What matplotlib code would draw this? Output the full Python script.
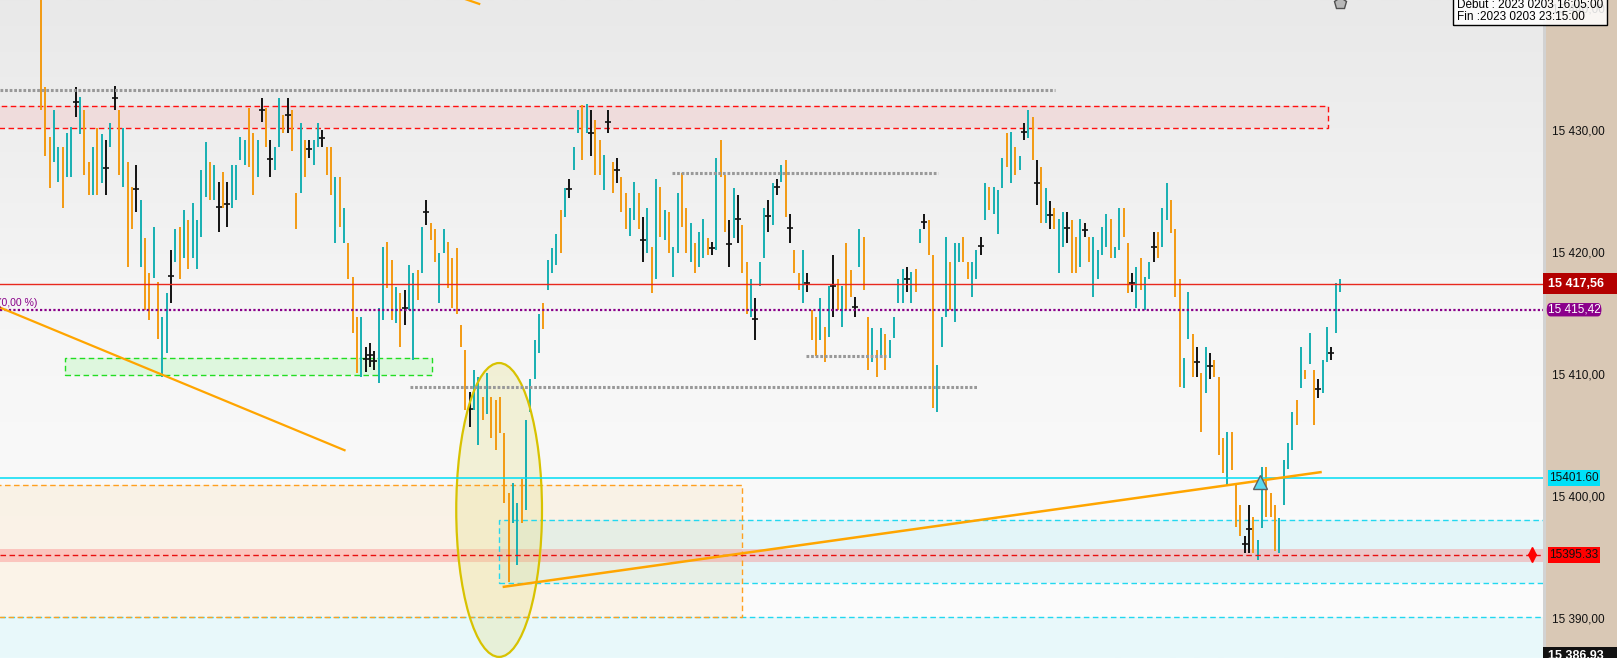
import numpy as np
import matplotlib
matplotlib.use("Agg")
from matplotlib import pyplot as plt
from matplotlib.patches import Rectangle, Ellipse, FancyBboxPatch
from matplotlib.colors import LinearSegmentedColormap

plt.rcParams['font.family'] = ['Liberation Sans', 'DejaVu Sans']

# bar highs / lows
highs = [
    15442.0, 15433.7, 15429.6, 15431.8, 15428.8, 15428.8, 15429.9, 15430.4, 15433.7, 15432.9,
    15431.8, 15427.5, 15428.8, 15430.3, 15429.8, 15429.3, 15430.7, 15433.8, 15431.8, 15430.3,
    15427.5, 15425.5, 15427.3, 15424.4, 15421.3, 15418.4, 15422.2, 15417.7, 15414.8, 15416.8,
    15420.3, 15422.0, 15422.2, 15423.6, 15422.8, 15424.2, 15422.8, 15426.9, 15429.2, 15427.5,
    15427.3, 15425.9, 15426.7, 15425.9, 15427.3, 15427.3, 15429.6, 15429.3, 15432.0, 15429.9,
    15429.3, 15432.8, 15432.0, 15429.3, 15428.8, 15432.8, 15431.4, 15432.8, 15431.8, 15425.0,
    15430.7, 15429.3, 15429.3, 15429.3, 15430.7, 15430.2, 15428.8, 15428.8, 15426.3, 15426.3,
    15423.8, 15420.9, 15418.1, 15414.8, 15414.8, 15412.4, 15412.7, 15412.0, 15415.6, 15420.6,
    15421.0, 15419.5, 15417.3, 15416.8, 15417.0, 15419.1, 15418.4, 15418.7, 15422.2, 15424.4,
    15422.5, 15422.0, 15420.1, 15422.0, 15421.0, 15419.7, 15420.5, 15414.2, 15412.1, 15408.7,
    15410.5, 15409.9, 15408.3, 15410.2, 15408.3, 15408.0, 15408.3, 15405.3, 15400.4, 15401.2,
    15399.6, 15401.5, 15406.4, 15409.7, 15412.9, 15415.1, 15416.0, 15419.5, 15420.5, 15421.6,
    15423.6, 15425.4, 15426.1, 15428.8, 15431.8, 15432.2, 15432.3, 15431.8, 15431.0, 15429.3,
    15428.1, 15431.8, 15427.5, 15427.9, 15426.3, 15425.0, 15423.8, 15425.9, 15425.0, 15423.0,
    15423.8, 15420.6, 15426.1, 15425.5, 15423.6, 15423.4, 15420.6, 15425.0, 15426.6, 15423.8,
    15422.5, 15420.9, 15421.8, 15422.9, 15421.3, 15421.0, 15427.9, 15429.3, 15426.5, 15422.8,
    15425.4, 15424.8, 15422.4, 15419.3, 15417.9, 15416.4, 15419.3, 15423.8, 15424.4, 15425.8,
    15426.1, 15427.3, 15427.7, 15423.3, 15420.3, 15418.4, 15420.3, 15418.4, 15415.4, 15414.8,
    15416.4, 15414.0, 15417.4, 15419.9, 15417.9, 15417.4, 15420.9, 15418.7, 15416.5, 15422.0,
    15421.4, 15414.8, 15413.9, 15412.1, 15413.9, 15413.4, 15412.9, 15414.8, 15417.9, 15418.8,
    15418.9, 15418.5, 15418.8, 15422.0, 15423.3, 15422.8, 15419.9, 15410.9, 15414.8, 15421.4,
    15419.3, 15420.9, 15420.9, 15421.4, 15419.3, 15419.3, 15420.3, 15421.4, 15425.8, 15425.5,
    15425.5, 15425.2, 15427.9, 15429.9, 15430.0, 15428.8, 15428.0, 15430.7, 15431.8, 15431.2,
    15427.7, 15427.1, 15425.4, 15424.3, 15423.8, 15422.9, 15423.4, 15423.4, 15422.8, 15421.4,
    15422.9, 15422.5, 15421.4, 15421.4, 15420.3, 15422.2, 15423.3, 15422.9, 15420.6, 15423.8,
    15423.8, 15420.9, 15418.4, 15418.9, 15419.7, 15418.1, 15419.3, 15421.8, 15421.8, 15423.8,
    15425.8, 15424.4, 15422.0, 15417.9, 15411.5, 15416.9, 15413.4, 15412.4, 15410.2, 15412.4,
    15411.9, 15411.3, 15409.9, 15404.9, 15405.4, 15405.4, 15401.2, 15399.4, 15396.9, 15399.4,
    15398.4, 15396.5, 15402.5, 15402.5, 15400.4, 15399.4, 15398.3, 15403.1, 15404.5, 15407.0,
    15408.0, 15412.4, 15410.5, 15413.5, 15410.5, 15409.7, 15411.3, 15414.0, 15412.4, 15417.6,
    15417.9,
]
lows = [
    15431.8, 15428.0, 15425.4, 15427.5, 15425.9, 15423.8, 15426.3, 15426.3, 15431.2, 15429.8,
    15426.5, 15424.8, 15424.8, 15424.8, 15425.8, 15424.8, 15428.8, 15431.8, 15426.5, 15425.5,
    15418.9, 15422.0, 15423.4, 15418.9, 15415.4, 15414.6, 15418.0, 15413.0, 15409.9, 15411.9,
    15416.0, 15419.3, 15417.9, 15419.7, 15418.8, 15419.7, 15418.8, 15421.4, 15424.7, 15424.4,
    15424.4, 15421.8, 15423.8, 15422.2, 15423.8, 15424.4, 15427.7, 15427.3, 15427.1, 15424.8,
    15426.3, 15430.8, 15428.8, 15426.3, 15426.9, 15428.8, 15429.9, 15429.9, 15428.4, 15422.0,
    15425.0, 15426.3, 15427.9, 15427.3, 15428.8, 15428.8, 15426.5, 15424.8, 15420.9, 15422.2,
    15420.9, 15417.9, 15413.5, 15410.2, 15409.9, 15410.3, 15410.7, 15410.5, 15409.4, 15414.6,
    15417.2, 15414.6, 15414.3, 15412.4, 15414.2, 15415.4, 15411.3, 15416.2, 15418.4, 15422.4,
    15421.1, 15419.3, 15416.0, 15420.1, 15417.2, 15415.6, 15415.1, 15412.4, 15407.2, 15405.8,
    15407.2, 15404.3, 15406.4, 15406.9, 15404.9, 15403.9, 15405.3, 15399.6, 15393.1, 15397.9,
    15394.5, 15397.9, 15399.0, 15407.0, 15409.7, 15411.9, 15413.8, 15417.0, 15418.4, 15419.1,
    15420.1, 15423.0, 15424.6, 15426.9, 15429.9, 15427.7, 15429.9, 15428.0, 15426.5, 15426.5,
    15425.2, 15429.9, 15425.0, 15425.8, 15423.4, 15422.0, 15421.5, 15422.8, 15422.0, 15419.3,
    15420.1, 15416.8, 15417.9, 15421.4, 15421.1, 15420.1, 15418.1, 15420.1, 15422.2, 15420.1,
    15419.3, 15418.4, 15418.9, 15419.7, 15419.9, 15419.9, 15420.3, 15426.3, 15421.8, 15418.9,
    15421.3, 15420.9, 15418.4, 15415.1, 15414.8, 15412.9, 15417.4, 15419.7, 15421.8, 15422.4,
    15424.8, 15425.9, 15423.0, 15420.9, 15418.4, 15417.0, 15416.0, 15416.9, 15412.9, 15411.6,
    15412.9, 15411.1, 15413.2, 15414.8, 15415.4, 15414.0, 15415.4, 15416.5, 15414.8, 15418.9,
    15417.0, 15410.5, 15411.1, 15409.9, 15411.6, 15410.5, 15411.5, 15413.1, 15416.0, 15416.0,
    15416.9, 15416.0, 15416.9, 15420.9, 15422.0, 15419.9, 15407.4, 15407.0, 15412.4, 15414.8,
    15415.4, 15414.4, 15419.3, 15419.3, 15417.9, 15416.5, 15417.9, 15419.9, 15422.8, 15423.6,
    15423.3, 15421.6, 15425.4, 15427.1, 15425.8, 15426.5, 15426.9, 15429.3, 15429.5, 15427.7,
    15424.0, 15422.5, 15422.5, 15422.0, 15422.0, 15418.4, 15420.6, 15420.9, 15418.4, 15418.4,
    15418.9, 15421.4, 15419.3, 15416.5, 15417.9, 15419.9, 15420.6, 15419.7, 15419.7, 15420.3,
    15421.4, 15416.8, 15416.9, 15415.6, 15417.0, 15415.4, 15417.9, 15419.3, 15419.7, 15420.6,
    15422.8, 15421.7, 15416.5, 15409.1, 15409.0, 15413.0, 15409.9, 15409.9, 15405.4, 15408.6,
    15409.7, 15409.9, 15403.5, 15402.0, 15401.0, 15402.3, 15397.6, 15396.9, 15395.5, 15395.5,
    15395.5, 15394.9, 15397.5, 15398.4, 15398.4, 15395.6, 15395.5, 15399.4, 15402.4, 15403.9,
    15406.0, 15409.0, 15409.7, 15411.0, 15406.0, 15408.2, 15408.6, 15411.1, 15411.3, 15413.5,
    15416.9,
]
# u = up bar, d = down bar, x = doji
dirs = ("ddduuduuxu" "dduduxuxdu" "ddxudduduu" "xududuuuud" "uxdxuuuudd"
        "uxdxuudxdd" "udxuuxddud" "uddduxxxuu" "ddudxuudux" "dduudddddx"
        "uududddddu" "uduuuuduuu" "duxuuduxdd" "uxdxdduudx" "udududuudd"
        "uduudxuddx" "uxdduxuuxu" "xudxdduxdd" "uduxduddxu" "ddududuuuu"
        "xuduxdduuu" "duudduuxud" "uuududuxud" "xduxduuxdd" "uxduuuuduu"
        "ddxuduuxdu" "uddduudxdu" "xdddudddxx" "duuddduuuu" "dududxuuxu"
        "u")

# price levels / annotations
last_price = 15417.56
ref_price = 15415.42
cyan_level = 15401.60
red_level = 15395.33
bottom_price = 15386.93
tick_prices = [15390, 15400, 15410, 15420, 15430, 15440]
tooltip_lines = ["Début : 2023 0203 16:05:00", "Fin :2023 0203 23:15:00"]

W, H = 1617, 658
fig = plt.figure(figsize=(W / 100, H / 100), dpi=100)
split = 1543 / W
ax = fig.add_axes([0, 0, split, 1])
pax = fig.add_axes([split, 0, 1 - split, 1])

step = 4.33
x0 = 41
xmin, xmax = -x0 / step, (1543 - x0) / step
ymin, ymax = 15386.86, 15440.82

# background gradient
grad = np.linspace(0, 1, 256).reshape(-1, 1)
cmap = LinearSegmentedColormap.from_list('bg', ['#FDFDFD', '#F6F6F6', '#E9E9E9'])
ax.imshow(grad, extent=[0, 1, 0, 1], transform=ax.transAxes, cmap=cmap,
          aspect='auto', origin='lower', zorder=0)

dash = (0, (4, 2.5))

# zones
zone_low = 15390.2
ax.add_patch(Rectangle((xmin, ymin - 1), xmax - xmin, zone_low - ymin + 1,
                       facecolor='#40D8F0', alpha=0.1, edgecolor='none', zorder=1))
ax.axhline(zone_low, color='#22D8F0', lw=1, dashes=(4, 2.5), zorder=2)
ax.add_patch(Rectangle((105.8, 15393.0), xmax + 5 - 105.8, 15398.2 - 15393.0,
                       facecolor='#40D8F0', alpha=0.12, edgecolor='none', zorder=1))
ax.add_patch(Rectangle((105.8, 15393.0), xmax + 5 - 105.8, 15398.2 - 15393.0,
                       facecolor='none', edgecolor='#22D8F0', lw=1, ls=dash, zorder=2))
ax.add_patch(Rectangle((xmin - 2, zone_low), 162.0 - xmin + 2, 15401.05 - zone_low,
                       facecolor='#FFC060', alpha=0.12, edgecolor='none', zorder=1))
ax.add_patch(Rectangle((xmin - 2, zone_low), 162.0 - xmin + 2, 15401.05 - zone_low,
                       facecolor='none', edgecolor='#FFA020', lw=1, ls=dash, zorder=2))
ax.add_patch(Rectangle((xmin, 15394.7), xmax - xmin, 15395.8 - 15394.7,
                       facecolor='#FF6060', alpha=0.3, edgecolor='none', zorder=1))
ax.add_patch(Rectangle((xmin - 2, 15430.3), 297.2 - xmin + 2, 15432.1 - 15430.3,
                       facecolor='#FF8080', alpha=0.15, edgecolor='none', zorder=1))
ax.add_patch(Rectangle((xmin - 2, 15430.3), 297.2 - xmin + 2, 15432.1 - 15430.3,
                       facecolor='none', edgecolor='#FF1010', lw=1, ls=dash, zorder=2))
ax.add_patch(Rectangle((5.5, 15410.1), 90.3 - 5.5, 15411.5 - 15410.1,
                       facecolor='#80FF80', alpha=0.2, edgecolor='none', zorder=1))
ax.add_patch(Rectangle((5.5, 15410.1), 90.3 - 5.5, 15411.5 - 15410.1,
                       facecolor='none', edgecolor='#22DD22', lw=1, ls=dash, zorder=2))

# ellipse
ax.add_patch(Ellipse((105.8, 15399.0), 19.8, 24.1, facecolor='#E6E08A', alpha=0.3,
                     edgecolor='none', zorder=1.5))
ax.add_patch(Ellipse((105.8, 15399.0), 19.8, 24.1, facecolor='none',
                     edgecolor='#D8C200', lw=1.6, zorder=4))

# gray dotted levels
gray_dots = dict(color='#999999', lw=2.2, dashes=(0.9, 0.6), zorder=4)
ax.plot([xmin, 234.2], [15433.4, 15433.4], **gray_dots)
ax.plot([145.7, 207.2], [15426.6, 15426.6], **gray_dots)
ax.plot([176.7, 195.2], [15411.6, 15411.6], **gray_dots)
ax.plot([85.2, 216.2], [15409.1, 15409.1], **gray_dots)

# bars
n = len(highs)
xs = np.arange(n)
colors = {'u': '#17B0B2', 'd': '#F39A12', 'x': '#111111'}
cols = [colors[c] for c in dirs[:n]]
ax.vlines(xs, lows, highs, colors=cols, lw=1.4, zorder=3)
doji = [i for i in range(n) if dirs[i] == 'x']
mids = [(highs[i] + lows[i]) / 2 for i in doji]
ax.plot(doji, mids, ls='none', marker='_', ms=4, mew=1.2, color='#111111', zorder=3)

# horizontal levels
ax.axhline(last_price, color='#E8281E', lw=1, zorder=4)
ax.axhline(ref_price, color='#880088', lw=1.6, dashes=(1, 1), zorder=4)
ax.axhline(cyan_level, color='#00DDF5', lw=1.1, zorder=4)
ax.axhline(red_level, color='#E81010', lw=1, dashes=(4, 2.5), zorder=4)
ax.text(-0.85, 15416.0, "(0,00 %)", color='#880088', fontsize=7.6, ha='right', va='center', zorder=5)

# trend lines
ax.plot([xmin, 70.1], [15415.6, 15403.9], color='#FFA500', lw=1.6, zorder=4)
ax.plot([96.3, 101.2], [15441.1, 15440.5], color='#FFA500', lw=1.6, zorder=4)
ax.plot([106.9, 295.5], [15392.7, 15402.1], color='#FFA500', lw=1.8, zorder=4)

# markers
ax.plot([281.5], [15401.3], marker='^', ms=10, mfc='#5AD8F0', mec='#606060', mew=1, zorder=5)
ax.plot([344.3], [red_level + 0.3], marker='^', ms=6, color='#FF0000', zorder=5)
ax.plot([344.3], [red_level - 0.3], marker='v', ms=6, color='#FF0000', zorder=5)
ax.plot([300.0], [15440.6], marker='p', ms=9, mfc='#B8B8B8', mec='#505050', mew=1, zorder=5)

ax.set_xlim(xmin, xmax)
ax.set_ylim(ymin, ymax)
ax.axis('off')

# price axis panel
pax.set_facecolor('#D9C8B5')
pax.set_xlim(0, 1)
pax.set_ylim(ymin, ymax)
pax.set_xticks([])
pax.set_yticks([])
for s in pax.spines.values():
    s.set_visible(False)
pax.add_patch(Rectangle((0, ymin), 0.035, ymax - ymin, facecolor='#D2D2D2', edgecolor='none'))


def fmt(v):
    return f"{v:,.2f}".replace(",", " ").replace(".", ",")


for p in tick_prices:
    pax.text(0.12, p, fmt(p), fontsize=8.5, va='center', ha='left', color='#111111')

pax.add_patch(Rectangle((0.0, last_price - 0.86), 1.0, 1.72, facecolor='#B30000', edgecolor='none'))
pax.text(0.07, last_price, fmt(last_price), color='white', fontsize=9, fontweight='bold',
         va='center', ha='left')
pax.add_patch(FancyBboxPatch((0.05, ref_price - 0.55), 0.74, 1.1,
                             boxstyle='round,pad=0,rounding_size=0.05',
                             facecolor='#8B008B', edgecolor='none', mutation_aspect=12))
pax.text(0.07, ref_price, fmt(ref_price), color='white', fontsize=8.5, va='center', ha='left')
pax.add_patch(Rectangle((0.068, cyan_level - 0.65), 0.70, 1.3, facecolor='#00E0F8', edgecolor='none'))
pax.text(0.08, cyan_level, f"{cyan_level:.2f}", color='#111111', fontsize=8.5, va='center', ha='left')
pax.add_patch(Rectangle((0.068, red_level - 0.65), 0.70, 1.3, facecolor='#FF0000', edgecolor='none'))
pax.text(0.08, red_level, f"{red_level:.2f}", color='#111111', fontsize=8.5, va='center', ha='left')
pax.add_patch(Rectangle((0.0, ymin - 1), 1.0, 15387.77 - ymin + 1, facecolor='#111111', edgecolor='none'))
pax.text(0.07, 15387.0, fmt(bottom_price), color='white', fontsize=9, fontweight='bold',
         va='center', ha='left', clip_on=True)

# tooltip box
fig.add_artist(Rectangle((1453 / W, 1 - 25 / H), 154 / W, 27 / H, transform=fig.transFigure,
                         facecolor='white', alpha=0.85, edgecolor='none', zorder=5))
fig.add_artist(Rectangle((1453 / W, 1 - 25 / H), 154 / W, 27 / H, transform=fig.transFigure,
                         facecolor='none', edgecolor='black', lw=1, zorder=6))
fig.text(1457 / W, 1 - 5 / H, tooltip_lines[0], fontsize=8.5, va='center', ha='left', zorder=7)
fig.text(1457 / W, 1 - 17.5 / H, tooltip_lines[1], fontsize=8.5, va='center', ha='left', zorder=7)

fig.savefig("out.png", dpi=100)
